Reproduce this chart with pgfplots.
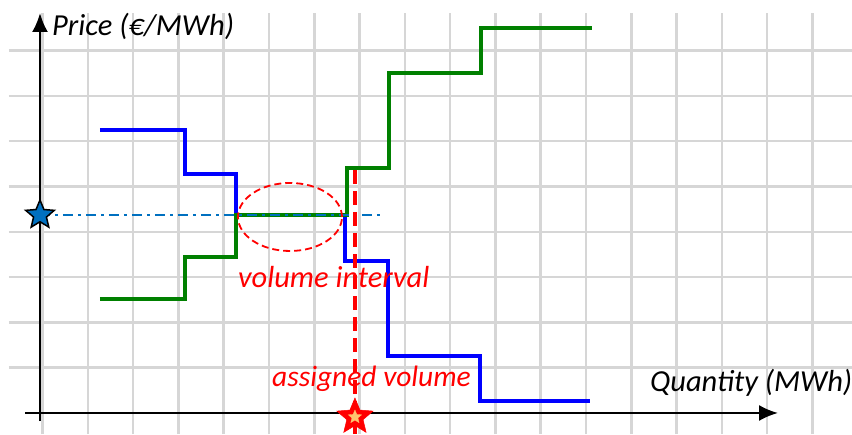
\documentclass[border=0pt]{standalone}
\usepackage{pgfplots}
\pgfplotsset{compat=1.18}
\usepackage{fontspec}
\setmainfont{Carlito}
\usetikzlibrary{arrows.meta}
\definecolor{gridc}{RGB}{214,214,214}
\definecolor{dashblue}{RGB}{0,112,192}
\definecolor{dgreen}{RGB}{0,128,0}
\definecolor{staryel}{RGB}{255,196,110}
\pgfdeclareplotmark{fstar}{%
  \pgfpathmoveto{\pgfpointpolar{90}{\pgfplotmarksize}}%
  \pgfpathlineto{\pgfpointpolar{126}{0.45\pgfplotmarksize}}%
  \pgfpathlineto{\pgfpointpolar{162}{\pgfplotmarksize}}%
  \pgfpathlineto{\pgfpointpolar{198}{0.45\pgfplotmarksize}}%
  \pgfpathlineto{\pgfpointpolar{234}{\pgfplotmarksize}}%
  \pgfpathlineto{\pgfpointpolar{270}{0.45\pgfplotmarksize}}%
  \pgfpathlineto{\pgfpointpolar{306}{\pgfplotmarksize}}%
  \pgfpathlineto{\pgfpointpolar{342}{0.45\pgfplotmarksize}}%
  \pgfpathlineto{\pgfpointpolar{18}{\pgfplotmarksize}}%
  \pgfpathlineto{\pgfpointpolar{54}{0.45\pgfplotmarksize}}%
  \pgfpathclose
  \pgfusepathqfillstroke}
\begin{document}
\begin{tikzpicture}
\begin{axis}[scale only axis, width=852pt, height=434pt,
  xmin=-0.938, xmax=17.872, ymin=-0.464, ymax=9.117,
  hide axis, clip=false]
% grid
\pgfplotsinvokeforeach{0,...,17}{\draw[gridc, line width=2.5pt] (axis cs:#1,-0.464) -- (axis cs:#1,8.83);}
\pgfplotsinvokeforeach{1,...,8}{\draw[gridc, line width=2.5pt] (axis cs:-0.74,#1) -- (axis cs:17.872,#1);}
% axes
\draw[black, line width=2.4pt, -{Latex[length=19pt,width=16pt]}] (axis cs:-0.386,0) -- (axis cs:16.24,0);
\draw[black, line width=2.4pt, -{Latex[length=19pt,width=16pt]}] (axis cs:-0.055,-0.177) -- (axis cs:-0.055,8.83);
% demand (blue)
\addplot[blue, line width=4pt, line join=miter] coordinates {
 (1.269,6.247) (3.146,6.247) (3.146,5.276) (4.272,5.276) (4.272,4.371)
 (6.678,4.371) (6.678,3.355) (7.627,3.355) (7.627,1.258) (9.658,1.258)
 (9.658,0.265) (12.086,0.265)};
% supply (green)
\addplot[dgreen, line width=4pt, line join=miter] coordinates {
 (1.269,2.517) (3.146,2.517) (3.146,3.444) (4.272,3.444) (4.272,4.371)
 (6.722,4.371) (6.722,5.408) (7.649,5.408) (7.649,7.506) (9.680,7.506)
 (9.680,8.499) (12.130,8.499)};
% clearing price line
\addplot[dashblue, line width=2pt, dash pattern=on 10pt off 5pt on 3pt off 5pt] coordinates {(-0.055,4.371) (7.56,4.371)};
% assigned volume line
\addplot[red, line width=4pt, dash pattern=on 14pt off 7pt] coordinates {(6.898,5.364) (6.898,-0.464)};
% ellipse
\draw[red, line width=1.8pt, dash pattern=on 7pt off 4pt] (axis cs:5.464,4.327) ellipse [x radius=52pt, y radius=34pt];
% stars
\addplot[only marks, mark=fstar, mark size=15pt, mark options={fill=dashblue, draw=black, line width=1.5pt}] coordinates {(-0.055,4.371)};
\addplot[only marks, mark=fstar, mark size=19pt, mark options={fill=red, draw=red, line width=0.5pt}] coordinates {(6.898,-0.088)};
\addplot[only marks, mark=fstar, mark size=7pt, mark options={fill=staryel, draw=staryel, line width=0.3pt}] coordinates {(6.898,-0.088)};
% labels
\node[anchor=base west, inner sep=0pt, font=\fontsize{30.5}{32}\selectfont\itshape] at (axis cs:0.21,8.344) {Price (€/MWh)};
\node[anchor=base west, inner sep=0pt, font=\fontsize{30.5}{32}\selectfont\itshape] at (axis cs:13.41,0.464) {Quantity (MWh)};
\node[anchor=base west, inner sep=0pt, text=red, font=\fontsize{30.5}{32}\selectfont\itshape] at (axis cs:4.316,2.78) {volume interval};
\node[anchor=base west, inner sep=0pt, text=red, font=\fontsize{29.5}{31}\selectfont\itshape] at (axis cs:5.066,0.574) {assigned volume};
\end{axis}
\pgfresetboundingbox
\path (current axis.south west) rectangle (current axis.north east);
\end{tikzpicture}
\end{document}
